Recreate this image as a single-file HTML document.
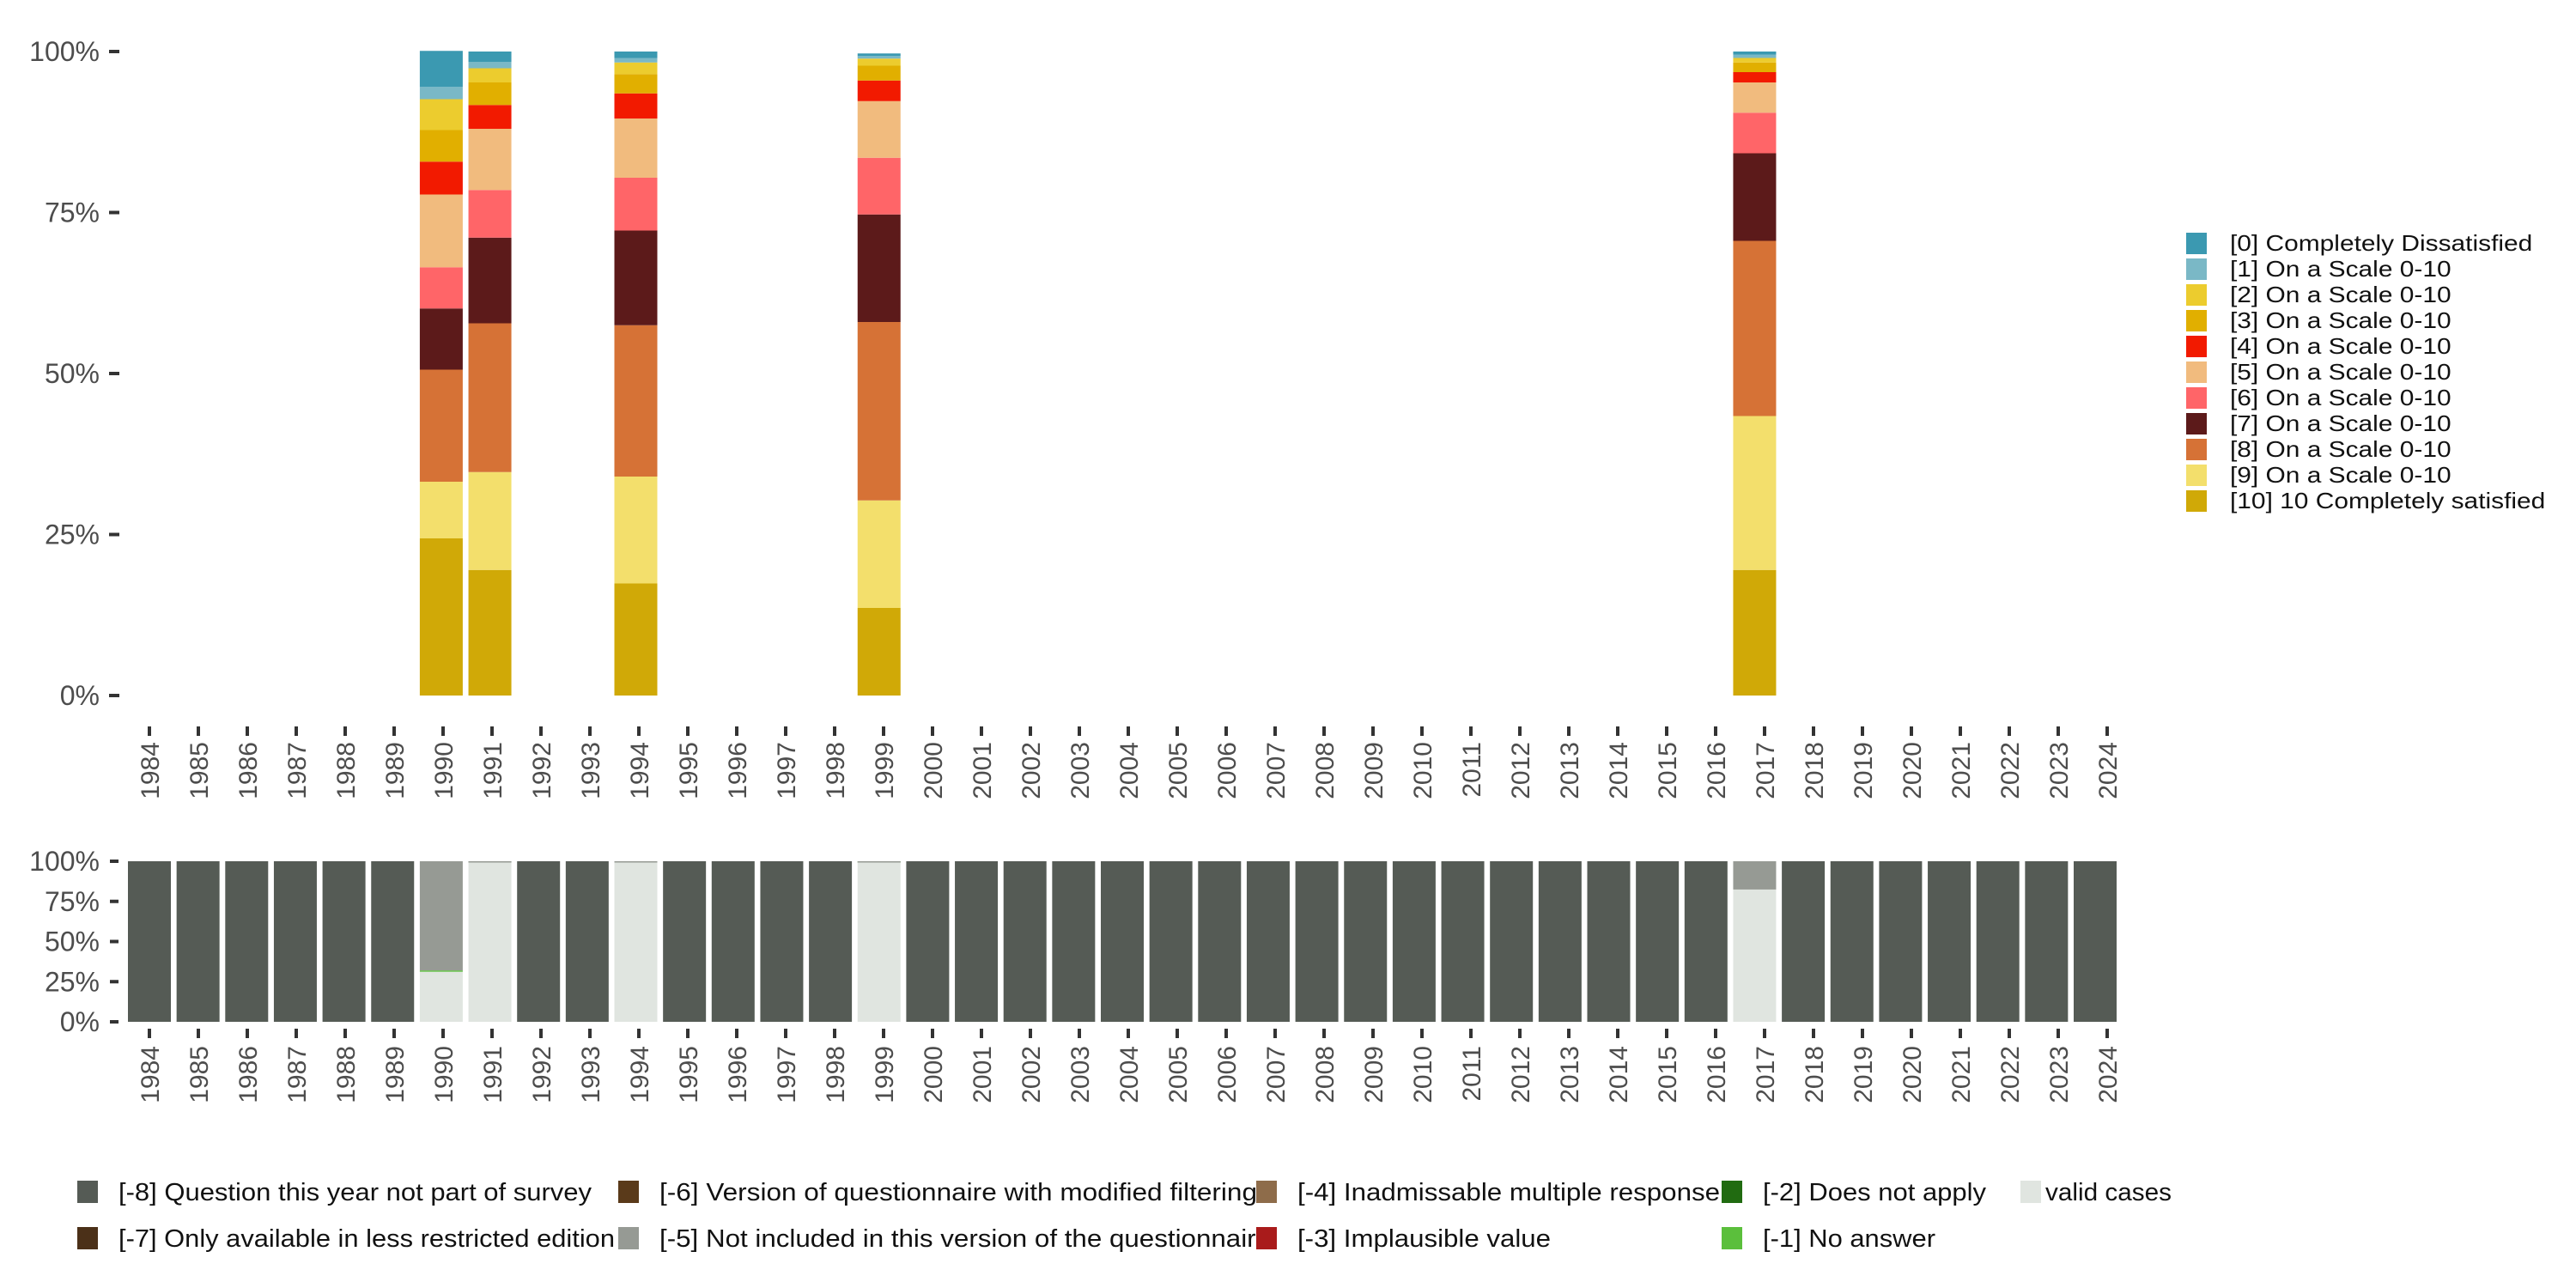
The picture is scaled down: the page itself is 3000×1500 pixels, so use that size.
<!DOCTYPE html>
<html><head><meta charset="utf-8"><style>
html,body{margin:0;padding:0;background:#fff;}
svg{display:block;font-family:"Liberation Sans",sans-serif;}
</style></head><body>
<svg id="chart" width="3000" height="1500" viewBox="0 0 3000 1500" xmlns="http://www.w3.org/2000/svg">
<g id="topG"></g>
<g id="bottom"></g>
<g id="legR"></g>
<g id="legB"></g>
</svg>
<script>
const years = [];
for (let y = 1984; y <= 2024; y++) years.push(y);
const catLabels = ["[0] Completely Dissatisfied","[1] On a Scale 0-10","[2] On a Scale 0-10","[3] On a Scale 0-10","[4] On a Scale 0-10","[5] On a Scale 0-10","[6] On a Scale 0-10","[7] On a Scale 0-10","[8] On a Scale 0-10","[9] On a Scale 0-10","[10] 10 Completely satisfied"];
const catColors = ["#3b99b1","#7ab8c6","#eccc2e","#e1af00","#f21a00","#f1bb7e","#ff6568","#5c1a1a","#d67236","#f3df6c","#d0a907"];
const validYears = [1990, 1991, 1994, 1999, 2017];
const share1990 = [5.6,1.9,4.8,4.9,5.1,11.3,6.4,9.5,17.4,8.8,24.4];
const share1991 = [1.6,1.0,2.2,3.5,3.7,9.5,7.4,13.3,23.1,15.2,19.5];
const share1994 = [1.0,0.7,1.8,3.0,3.9,9.2,8.2,14.7,23.5,16.6,17.4];
const share1999 = [0.4,0.4,1.1,2.3,3.2,8.8,8.8,16.7,27.7,16.7,13.6];
const share2017 = [0.5,0.5,0.7,1.5,1.6,4.7,6.3,13.6,27.2,23.9,19.5];
const shares = [share1990, share1991, share1994, share1999, share2017];
const yTicks = [0,25,50,75,100];
const yTickLabels = ["0%","25%","50%","75%","100%"];
const missLabels = ["[-8] Question this year not part of survey","[-7] Only available in less restricted edition","[-6] Version of questionnaire with modified filtering","[-5] Not included in this version of the questionnaire","[-4] Inadmissable multiple response","[-3] Implausible value","[-2] Does not apply","[-1] No answer","valid cases"];
const missColors = ["#555b55","#4b3018","#5a3a1a","#969a94","#8e6c4a","#a91b1b","#216b11","#5bbf3c","#e0e5e0"];
const validShare = {1990:31.6, 1991:99.6, 1994:99.6, 1999:99.6, 2017:82.4};
const noAnswerShare = {1990:0.4, 1991:0.4, 1994:0.4, 1999:0.4, 2017:0.0};

const NS = "http://www.w3.org/2000/svg";
function mk(tag, attrs, parent){const e=document.createElementNS(NS,tag);for(const k in attrs)e.setAttribute(k,attrs[k]);parent.appendChild(e);return e;}
const x0 = 174, barStep = 56.65, tickStep = 57.0, barW = 50;
function xC(y){return x0 + (y-1984)*barStep;}
function xT(y){return x0 + (y-1984)*tickStep;}
function yTop(v){return 810 - v/100*750;}
function yBot(v){return 1190 - v/100*187;}

const topG = document.getElementById('topG');
const bot = document.getElementById('bottom');

validYears.forEach((yr,i)=>{
  let cum = 0;
  for (let c = 10; c >= 0; c--) {
    const v = shares[i][c];
    const r = mk('rect',{x:xC(yr)-barW/2,y:yTop(cum+v),width:barW,height:yTop(cum)-yTop(cum+v),fill:catColors[c]},topG);
    
    
    cum += v;
  }
});
yTicks.forEach((t,i)=>{
  const l=mk('rect',{x:127,y:yTop(t)-2,width:12,height:4,fill:'#333'},topG);
  
  
  const tx=mk('text',{x:116,y:yTop(t)+11,'text-anchor':'end','font-size':32,fill:'#4d4d4d'},topG);
  tx.textContent=yTickLabels[i];
  
  
});
years.forEach(yr=>{
  const t=mk('rect',{x:xT(yr)-2,y:846,width:4,height:11,fill:'#333'},topG);
  
  
  const tx=mk('text',{x:0,y:0,'text-anchor':'end','font-size':30,fill:'#4d4d4d',transform:'translate('+(xT(yr)+11)+',864) rotate(-90)'},topG);
  tx.textContent=yr;
  
  
});

years.forEach(yr=>{
  const segs=[];
  if (validShare[yr]!==undefined){
    const v=validShare[yr], na=noAnswerShare[yr];
    segs.push([8,v]); segs.push([7,na]); segs.push([3,100-v-na]);
  } else segs.push([0,100]);
  let cum=0;
  segs.forEach(([k,v])=>{
    if(v<=0)return;
    const r=mk('rect',{x:xC(yr)-barW/2,y:yBot(cum+v),width:barW,height:Math.max(yBot(cum)-yBot(cum+v),1.5),fill:missColors[k]},bot);
    
    
    cum+=v;
  });
});
yTicks.forEach((t,i)=>{
  const l=mk('rect',{x:128,y:yBot(t)-2,width:10,height:4,fill:'#333'},bot);
  
  
  const tx=mk('text',{x:116,y:yBot(t)+11,'text-anchor':'end','font-size':32,fill:'#4d4d4d'},bot);
  tx.textContent=yTickLabels[i];
  
  
});
years.forEach(yr=>{
  const t=mk('rect',{x:xT(yr)-2,y:1198,width:4,height:11,fill:'#333'},bot);
  
  
  const tx=mk('text',{x:0,y:0,'text-anchor':'end','font-size':30,fill:'#4d4d4d',transform:'translate('+(xT(yr)+11)+',1218) rotate(-90)'},bot);
  tx.textContent=yr;
  
  
});

const legR=document.getElementById('legR');
catLabels.forEach((lab,i)=>{
  const cy=283+i*30;
  const r=mk('rect',{x:2546,y:cy-12,width:24,height:25,fill:catColors[i]},legR);
  
  
  const tx=mk('text',{x:2597,y:cy+9,'font-size':26,fill:'#111'},legR);
  tx.textContent=lab;
  
  
  const w=tx.getComputedTextLength();
  if(w>0){tx.setAttribute('textLength',(w*1.15).toFixed(1));tx.setAttribute('lengthAdjust','spacingAndGlyphs');}
});

const legB=document.getElementById('legB');
const legPos=[[90,1388,551],[90,1442,578],[720,1388,696],[720,1442,712],[1463,1388,492],[1463,1442,295],[2005,1388,260],[2005,1442,201],[2353,1388,147]];
const legOrder=[0,1,2,3,4,5,6,7,8];
legOrder.forEach((k,i)=>{
  const [x,cy,w]=legPos[i];
  const r=mk('rect',{x:x,y:cy-13,width:24,height:26,fill:missColors[k]},legB);
  
  
  const tx=mk('text',{x:(k===8?x+29:x+48),y:cy+10,'font-size':29,fill:'#111',textLength:w,lengthAdjust:'spacingAndGlyphs'},legB);
  tx.textContent=missLabels[k];
  
  
});
</script>
</body></html>
